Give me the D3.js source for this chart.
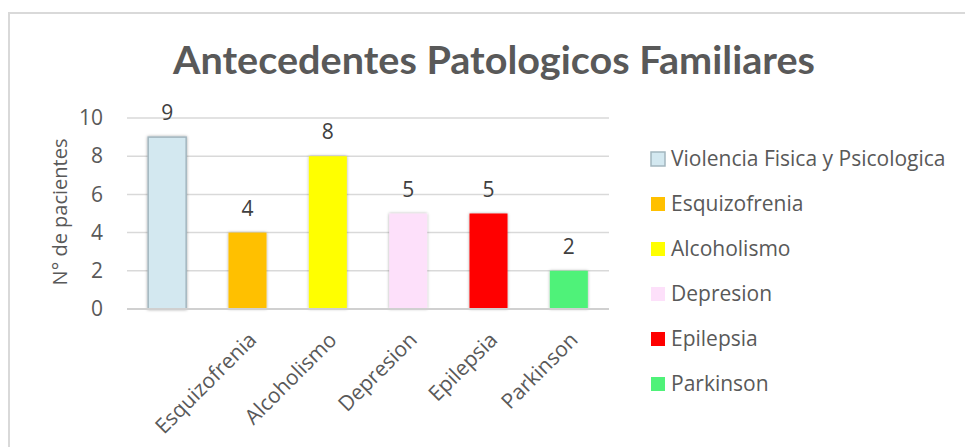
<!DOCTYPE html>
<html>
<head>
<meta charset="utf-8">
<script src="https://cdn.jsdelivr.net/npm/d3@7"></script>
<style>
  body { margin: 0; background: #fff; }
  text { font-family: 'Open Sans', sans-serif; fill: #595959; }
</style>
</head>
<body>
<svg width="965" height="447"></svg>
<script>
var categories = ['Violencia Fisica y Psicologica', 'Esquizofrenia', 'Alcoholismo', 'Depresion', 'Epilepsia', 'Parkinson'];
var values = [9, 4, 8, 5, 5, 2];
var colors = ['#d3e8f0', '#ffc000', '#ffff00', '#fde0fa', '#ff0000', '#4ff279'];
// Excel dropped the first (too long) category label on the axis
var xTickLabels = ['', 'Esquizofrenia', 'Alcoholismo', 'Depresion', 'Epilepsia', 'Parkinson'];
var yTicks = [0, 2, 4, 6, 8, 10];

var svg = d3.select('svg');

var defs = svg.append('defs');
var shadow = defs.append('filter').attr('id', 'shadow')
  .attr('x', '-30%').attr('y', '-10%').attr('width', '160%').attr('height', '120%');
shadow.append('feDropShadow')
  .attr('dx', 0).attr('dy', 0).attr('stdDeviation', 1.6)
  .attr('flood-color', '#000').attr('flood-opacity', 0.35);

// chart frame
svg.append('rect')
  .attr('x', 9).attr('y', 13)
  .attr('width', 970).attr('height', 450)
  .attr('fill', 'none')
  .attr('stroke', '#d9d9d9')
  .attr('stroke-width', 2);

var x = d3.scaleBand()
  .domain(categories)
  .range([127, 609])
  .paddingInner(0.527)
  .paddingOuter(0.2635);

var y = d3.scaleLinear()
  .domain([0, 10])
  .range([309, 118]);

// title
svg.append('text')
  .attr('x', 494)
  .attr('y', 74)
  .attr('text-anchor', 'middle')
  .attr('textLength', 642)
  .attr('lengthAdjust', 'spacingAndGlyphs')
  .style('font-family', 'Lato, sans-serif')
  .style('font-weight', 'bold')
  .style('font-size', '39px')
  .text('Antecedentes Patologicos Familiares');

// gridlines
svg.append('g')
  .selectAll('line')
  .data(yTicks.slice(1))
  .enter()
  .append('line')
  .attr('x1', 127).attr('x2', 609)
  .attr('y1', function(d) { return y(d); })
  .attr('y2', function(d) { return y(d); })
  .attr('stroke', '#d9d9d9')
  .attr('stroke-width', 1.5);

// y axis labels
var yAxis = svg.append('g')
  .attr('transform', 'translate(103,0)')
  .call(d3.axisLeft(y).tickValues(yTicks).tickSize(0).tickPadding(0));
yAxis.select('.domain').remove();
yAxis.selectAll('text')
  .style('font-size', '21px')
  .style('font-family', "'Open Sans', sans-serif")
  .attr('fill', '#595959');

svg.append('text')
  .attr('transform', 'translate(67,212) rotate(-90)')
  .attr('text-anchor', 'middle')
  .style('font-size', '20px')
  .text('N° de pacientes');

// bars
svg.append('g')
  .selectAll('rect')
  .data(values)
  .enter()
  .append('rect')
  .attr('x', function(d, i) { return x(categories[i]); })
  .attr('y', function(d) { return y(d); })
  .attr('width', x.bandwidth())
  .attr('height', function(d) { return y(0) - y(d); })
  .attr('fill', function(d, i) { return colors[i]; })
  .attr('stroke', function(d, i) { return i === 0 ? '#a3b6bf' : 'none'; })
  .attr('stroke-width', 1.5)
  .attr('filter', 'url(#shadow)');

// baseline axis
svg.append('line')
  .attr('x1', 127).attr('x2', 609)
  .attr('y1', y(0)).attr('y2', y(0))
  .attr('stroke', '#d0d0d0')
  .attr('stroke-width', 2);

// data labels
svg.append('g')
  .selectAll('text')
  .data(values)
  .enter()
  .append('text')
  .attr('x', function(d, i) { return x(categories[i]) + x.bandwidth() / 2; })
  .attr('y', function(d) { return y(d) - 17; })
  .attr('text-anchor', 'middle')
  .style('font-size', '21px')
  .style('fill', '#404040')
  .text(function(d) { return d; });

// x axis labels
svg.append('g')
  .selectAll('text')
  .data(categories)
  .enter()
  .append('text')
  .attr('transform', function(d) {
    return 'translate(' + (x(d) + x.bandwidth() / 2 + 5) + ',336) rotate(-45)';
  })
  .attr('text-anchor', 'end')
  .attr('dy', '0.35em')
  .style('font-size', '21px')
  .text(function(d, i) { return xTickLabels[i]; });

// legend
var legend = svg.append('g')
  .selectAll('g')
  .data(categories)
  .enter()
  .append('g')
  .attr('transform', function(d, i) { return 'translate(651,' + (159 + i * 45) + ')'; });

legend.append('rect')
  .attr('x', 0).attr('y', -7)
  .attr('width', 14).attr('height', 14)
  .attr('fill', function(d, i) { return colors[i]; })
  .attr('stroke', function(d, i) { return i === 0 ? '#a3b6bf' : 'none'; })
  .attr('stroke-width', 1.5);

legend.append('text')
  .attr('x', 20)
  .attr('y', 0)
  .attr('dy', '0.35em')
  .style('font-size', '21px')
  .text(function(d) { return d; });
</script>
</body>
</html>
